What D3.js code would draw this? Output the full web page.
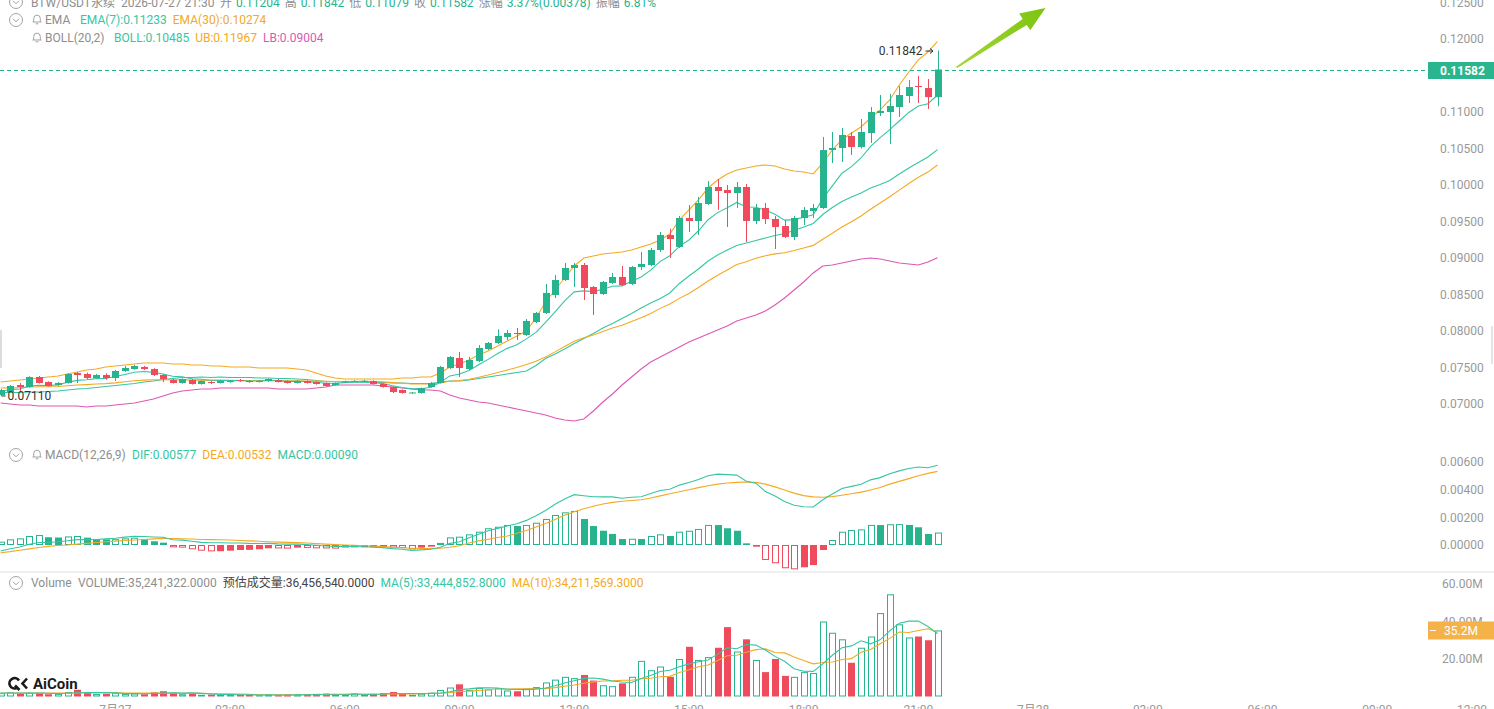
<!DOCTYPE html>
<html><head><meta charset="utf-8">
<script src="https://cdn.jsdelivr.net/npm/d3@7"></script>
<style>html,body{margin:0;padding:0;background:#fff;overflow:hidden}svg{display:block}</style>
</head><body>
<svg id="c" width="1494" height="709"></svg>
<script>
// ---------------- DATA ----------------
const open = [0.07123,0.07164,0.07260,0.07233,0.07370,0.07301,0.07260,0.07288,0.07425,0.07411,
0.07356,0.07397,0.07356,0.07452,0.07479,0.07507,0.07479,0.07397,0.07329,0.07288,
0.07329,0.07274,0.07301,0.07288,0.07301,0.07329,0.07315,0.07301,0.07315,0.07329,
0.07315,0.07288,0.07315,0.07301,0.07288,0.07260,0.07301,0.07310,0.07312,0.07315,
0.07274,0.07233,0.07192,0.07151,0.07151,0.07233,0.07288,0.07493,0.07630,0.07479,
0.07589,0.07753,0.07836,0.07918,0.07973,0.07945,0.08123,0.08247,0.08493,0.08699,
0.08863,0.08904,0.08603,0.08507,0.08658,0.08740,0.08644,0.08877,0.08904,0.09110,
0.09315,0.09151,0.09548,0.09507,0.09740,0.09973,0.09932,0.09890,0.09973,0.09507,
0.09685,0.09534,0.09438,0.09288,0.09548,0.09644,0.09685,0.10479,0.10507,0.10671,
0.10521,0.10712,0.10986,0.11000,0.11068,0.11219,0.11356,0.11329,0.11204];
const high = [0.07205,0.07260,0.07288,0.07380,0.07384,0.07310,0.07300,0.07420,0.07438,0.07430,
0.07410,0.07420,0.07466,0.07521,0.07534,0.07521,0.07490,0.07410,0.07342,0.07350,
0.07342,0.07325,0.07315,0.07329,0.07329,0.07342,0.07325,0.07325,0.07350,0.07342,
0.07325,0.07325,0.07320,0.07310,0.07295,0.07295,0.07320,0.07325,0.07330,0.07325,
0.07280,0.07240,0.07200,0.07165,0.07225,0.07301,0.07521,0.07658,0.07712,0.07644,
0.07808,0.07850,0.08023,0.08014,0.08041,0.08164,0.08260,0.08644,0.08767,0.08932,
0.08932,0.08932,0.08616,0.08685,0.08795,0.08890,0.08890,0.09082,0.09137,0.09356,
0.09400,0.09575,0.09726,0.09836,0.10055,0.10082,0.10000,0.10041,0.10014,0.09740,
0.09753,0.09575,0.09521,0.09575,0.09699,0.09740,0.10658,0.10726,0.10781,0.10726,
0.10904,0.11068,0.11233,0.11247,0.11356,0.11438,0.11493,0.11452,0.11842];
const low = [0.07110,0.07151,0.07164,0.07225,0.07280,0.07240,0.07250,0.07280,0.07288,0.07340,
0.07350,0.07330,0.07315,0.07440,0.07470,0.07466,0.07384,0.07301,0.07280,0.07280,
0.07265,0.07265,0.07275,0.07280,0.07290,0.07305,0.07290,0.07295,0.07305,0.07295,
0.07280,0.07280,0.07280,0.07265,0.07240,0.07250,0.07290,0.07305,0.07305,0.07265,
0.07225,0.07150,0.07140,0.07140,0.07140,0.07225,0.07280,0.07480,0.07370,0.07466,
0.07575,0.07740,0.07820,0.07877,0.07877,0.07932,0.08110,0.08233,0.08452,0.08685,
0.08603,0.08425,0.08219,0.08493,0.08644,0.08616,0.08630,0.08836,0.08890,0.09082,
0.09000,0.09137,0.09356,0.09315,0.09726,0.09658,0.09425,0.09685,0.09219,0.09466,
0.09466,0.09123,0.09274,0.09247,0.09452,0.09548,0.09670,0.10301,0.10315,0.10411,
0.10500,0.10575,0.10945,0.10562,0.10932,0.11123,0.11123,0.11041,0.11079];
const close = [0.07192,0.07247,0.07233,0.07370,0.07288,0.07247,0.07288,0.07411,0.07397,0.07356,
0.07397,0.07356,0.07452,0.07493,0.07521,0.07479,0.07397,0.07342,0.07288,0.07342,
0.07274,0.07315,0.07288,0.07315,0.07315,0.07315,0.07301,0.07315,0.07342,0.07301,
0.07288,0.07315,0.07288,0.07274,0.07247,0.07288,0.07310,0.07315,0.07318,0.07274,
0.07233,0.07164,0.07151,0.07158,0.07219,0.07288,0.07507,0.07644,0.07493,0.07603,
0.07767,0.07836,0.07932,0.07973,0.07959,0.08137,0.08247,0.08521,0.08699,0.08863,
0.08904,0.08589,0.08507,0.08671,0.08740,0.08630,0.08877,0.08918,0.09110,0.09315,
0.09260,0.09548,0.09507,0.09753,0.09973,0.09918,0.09890,0.09973,0.09507,0.09685,
0.09534,0.09425,0.09288,0.09548,0.09658,0.09685,0.10479,0.10507,0.10685,0.10521,
0.10726,0.11000,0.11014,0.11082,0.11233,0.11342,0.11342,0.11204,0.11582];
const ema7 = [0.07178,0.07195,0.07205,0.07246,0.07256,0.07254,0.07262,0.07299,0.07324,0.07332,
0.07348,0.07350,0.07376,0.07405,0.07434,0.07445,0.07433,0.07411,0.07380,0.07371,
0.07346,0.07339,0.07326,0.07323,0.07321,0.07320,0.07315,0.07315,0.07322,0.07316,
0.07310,0.07311,0.07306,0.07297,0.07285,0.07285,0.07293,0.07299,0.07303,0.07296,
0.07279,0.07251,0.07226,0.07207,0.07210,0.07229,0.07299,0.07385,0.07412,0.07460,
0.07537,0.07611,0.07692,0.07762,0.07811,0.07892,0.07981,0.08117,0.08262,0.08412,
0.08536,0.08549,0.08539,0.08571,0.08614,0.08618,0.08682,0.08741,0.08833,0.08954,
0.09030,0.09159,0.09247,0.09373,0.09524,0.09622,0.09689,0.09761,0.09698,0.09695,
0.09655,0.09598,0.09519,0.09526,0.09559,0.09591,0.09813,0.09987,0.10161,0.10251,
0.10370,0.10528,0.10650,0.10758,0.10877,0.10994,0.11081,0.11113,0.11233];
const ema30 = [0.07219,0.07221,0.07222,0.07232,0.07236,0.07236,0.07240,0.07251,0.07260,0.07266,
0.07274,0.07279,0.07290,0.07304,0.07318,0.07327,0.07332,0.07333,0.07330,0.07330,
0.07327,0.07326,0.07323,0.07323,0.07323,0.07322,0.07321,0.07321,0.07322,0.07321,
0.07318,0.07318,0.07316,0.07314,0.07310,0.07308,0.07308,0.07310,0.07310,0.07307,
0.07303,0.07293,0.07285,0.07275,0.07273,0.07273,0.07288,0.07311,0.07322,0.07340,
0.07367,0.07397,0.07432,0.07467,0.07499,0.07540,0.07585,0.07645,0.07714,0.07788,
0.07860,0.07907,0.07945,0.07992,0.08040,0.08078,0.08130,0.08181,0.08241,0.08310,
0.08371,0.08447,0.08515,0.08595,0.08684,0.08763,0.08836,0.08910,0.08948,0.08996,
0.09030,0.09056,0.09071,0.09102,0.09137,0.09173,0.09258,0.09339,0.09425,0.09496,
0.09576,0.09667,0.09754,0.09840,0.09930,0.10021,0.10106,0.10177,0.10274];
const bollMid = [0.07158,0.07158,0.07158,0.07164,0.07165,0.07172,0.07179,0.07192,0.07206,0.07213,
0.07226,0.07240,0.07254,0.07267,0.07281,0.07302,0.07315,0.07336,0.07350,0.07363,
0.07363,0.07370,0.07363,0.07370,0.07363,0.07363,0.07363,0.07356,0.07356,0.07349,
0.07349,0.07342,0.07336,0.07322,0.07309,0.07308,0.07301,0.07301,0.07301,0.07301,
0.07295,0.07288,0.07288,0.07281,0.07281,0.07281,0.07302,0.07315,0.07315,0.07329,
0.07349,0.07370,0.07391,0.07411,0.07432,0.07452,0.07528,0.07623,0.07685,0.07754,
0.07829,0.07898,0.07966,0.08041,0.08103,0.08171,0.08240,0.08315,0.08384,0.08446,
0.08521,0.08651,0.08754,0.08850,0.08959,0.09042,0.09110,0.09172,0.09206,0.09240,
0.09274,0.09309,0.09336,0.09377,0.09425,0.09473,0.09596,0.09692,0.09775,0.09836,
0.09891,0.09959,0.10007,0.10062,0.10151,0.10233,0.10309,0.10384,0.10485];
const bollUB = [0.07301,0.07315,0.07329,0.07342,0.07356,0.07370,0.07384,0.07411,0.07438,0.07466,
0.07479,0.07507,0.07521,0.07534,0.07548,0.07562,0.07562,0.07562,0.07548,0.07548,
0.07534,0.07534,0.07521,0.07521,0.07507,0.07507,0.07507,0.07493,0.07493,0.07493,
0.07493,0.07479,0.07466,0.07425,0.07384,0.07356,0.07342,0.07342,0.07342,0.07342,
0.07342,0.07342,0.07356,0.07356,0.07370,0.07370,0.07425,0.07507,0.07548,0.07603,
0.07671,0.07726,0.07795,0.07863,0.07932,0.08000,0.08178,0.08397,0.08562,0.08726,
0.08891,0.09000,0.09028,0.09055,0.09069,0.09082,0.09110,0.09151,0.09192,0.09247,
0.09329,0.09521,0.09658,0.09795,0.09959,0.10069,0.10151,0.10206,0.10233,0.10261,
0.10274,0.10261,0.10220,0.10192,0.10178,0.10151,0.10302,0.10480,0.10617,0.10713,
0.10795,0.10918,0.11028,0.11165,0.11370,0.11548,0.11713,0.11822,0.11967];
const bollLB = [0.07014,0.07000,0.06986,0.06986,0.06973,0.06973,0.06973,0.06973,0.06973,0.06959,
0.06973,0.06973,0.06986,0.07000,0.07014,0.07041,0.07068,0.07110,0.07151,0.07178,
0.07192,0.07205,0.07205,0.07219,0.07219,0.07219,0.07219,0.07219,0.07219,0.07205,
0.07205,0.07205,0.07205,0.07219,0.07233,0.07260,0.07260,0.07260,0.07260,0.07260,
0.07247,0.07233,0.07219,0.07205,0.07192,0.07192,0.07178,0.07123,0.07082,0.07055,
0.07027,0.07014,0.06986,0.06959,0.06932,0.06904,0.06877,0.06849,0.06808,0.06781,
0.06767,0.06795,0.06904,0.07027,0.07137,0.07260,0.07370,0.07479,0.07575,0.07644,
0.07712,0.07781,0.07849,0.07904,0.07959,0.08014,0.08069,0.08137,0.08178,0.08219,
0.08274,0.08356,0.08452,0.08562,0.08671,0.08795,0.08890,0.08904,0.08932,0.08959,
0.08986,0.09000,0.08986,0.08959,0.08932,0.08918,0.08904,0.08945,0.09004];
const dif = [-0.00044,-0.00027,-0.00014,0.00005,0.00018,0.00018,0.00023,0.00031,0.00039,0.00039,
0.00040,0.00044,0.00049,0.00057,0.00063,0.00061,0.00058,0.00056,0.00038,0.00035,
0.00027,0.00019,0.00016,0.00016,0.00015,0.00015,0.00012,0.00011,0.00012,0.00008,
0.00006,0.00007,0.00003,-0.00002,-0.00007,-0.00010,-0.00009,-0.00011,-0.00013,-0.00016,
-0.00019,-0.00026,-0.00031,-0.00039,-0.00035,-0.00031,-0.00016,0.00012,0.00024,0.00053,
0.00078,0.00103,0.00120,0.00138,0.00154,0.00178,0.00211,0.00249,0.00294,0.00333,
0.00364,0.00356,0.00349,0.00348,0.00348,0.00338,0.00345,0.00349,0.00373,0.00394,
0.00403,0.00433,0.00452,0.00473,0.00501,0.00512,0.00509,0.00505,0.00461,0.00447,
0.00386,0.00354,0.00314,0.00287,0.00276,0.00275,0.00327,0.00368,0.00408,0.00424,
0.00439,0.00471,0.00487,0.00515,0.00536,0.00553,0.00564,0.00558,0.00577];
const dea = [-0.00056,-0.00048,-0.00038,-0.00028,-0.00018,-0.00010,-0.00004,0.00000,0.00006,0.00012,
0.00018,0.00023,0.00028,0.00033,0.00036,0.00040,0.00044,0.00047,0.00047,0.00045,
0.00043,0.00040,0.00039,0.00038,0.00036,0.00033,0.00030,0.00027,0.00024,0.00021,
0.00019,0.00017,0.00014,0.00010,0.00006,0.00003,0.00000,-0.00002,-0.00005,-0.00008,
-0.00012,-0.00016,-0.00020,-0.00023,-0.00025,-0.00025,-0.00024,-0.00016,-0.00006,0.00014,
0.00030,0.00042,0.00054,0.00065,0.00085,0.00105,0.00130,0.00155,0.00185,0.00215,
0.00241,0.00262,0.00280,0.00296,0.00308,0.00316,0.00322,0.00327,0.00340,0.00355,
0.00370,0.00385,0.00400,0.00415,0.00428,0.00440,0.00448,0.00453,0.00455,0.00453,
0.00440,0.00420,0.00398,0.00375,0.00357,0.00348,0.00345,0.00350,0.00360,0.00370,
0.00382,0.00398,0.00415,0.00440,0.00460,0.00480,0.00500,0.00518,0.00532];
const macdHist = [0.00024,0.00041,0.00048,0.00065,0.00072,0.00056,0.00054,0.00062,0.00065,0.00053,
0.00043,0.00041,0.00042,0.00048,0.00053,0.00041,0.00027,0.00017,-0.00017,-0.00019,
-0.00031,-0.00041,-0.00046,-0.00045,-0.00041,-0.00036,-0.00035,-0.00031,-0.00024,-0.00025,
-0.00026,-0.00019,-0.00021,-0.00024,-0.00025,-0.00026,-0.00018,-0.00017,-0.00016,-0.00015,
-0.00014,-0.00019,-0.00022,-0.00031,-0.00019,-0.00012,0.00015,0.00055,0.00060,0.00077,
0.00096,0.00121,0.00132,0.00145,0.00137,0.00145,0.00161,0.00188,0.00217,0.00236,
0.00246,0.00188,0.00137,0.00103,0.00080,0.00043,0.00045,0.00043,0.00065,0.00077,
0.00065,0.00096,0.00103,0.00116,0.00145,0.00144,0.00121,0.00103,0.00012,-0.00012,
-0.00108,-0.00132,-0.00168,-0.00176,-0.00161,-0.00145,-0.00036,0.00036,0.00096,0.00108,
0.00113,0.00145,0.00144,0.00150,0.00151,0.00145,0.00128,0.00080,0.00090];
// volume in millions
const volume = [1.8,2.2,1.5,2.0,1.6,1.2,1.4,2.4,3.6,2.0,
1.3,1.5,1.8,1.4,1.6,1.2,2.2,2.8,2.0,1.2,
1.5,0.9,1.0,0.8,0.9,1.0,0.8,0.7,0.9,0.8,
1.0,0.9,1.2,1.4,1.5,1.0,0.8,1.6,0.9,1.4,
1.8,2.4,1.6,0.9,1.5,2.0,3.5,4.8,6.5,3.5,
4.6,3.8,4.4,3.2,2.8,4.2,5.0,7.5,9.0,10.5,
9.8,11.5,8.5,6.0,5.5,7.0,10.5,19.0,14.0,16.0,
10.5,20.0,26.5,19.5,21.0,26.0,37.0,24.0,30.5,19.5,
13.0,20.0,11.0,10.5,13.0,12.5,40.0,34.0,30.5,18.0,
26.0,32.0,44.5,54.5,38.5,31.5,32.0,30.0,35.24];
const volMA5 = [1.9,1.9,1.8,1.8,1.82,1.70,1.54,1.72,2.04,2.12,
2.14,2.16,2.04,1.60,1.52,1.50,1.64,1.84,1.96,1.88,
1.94,1.68,1.32,1.08,1.02,0.92,0.90,0.84,0.86,0.84,
0.84,0.86,0.96,1.06,1.20,1.20,1.18,1.26,1.16,1.14,
1.30,1.62,1.62,1.62,1.64,1.68,1.90,2.54,3.66,4.06,
4.58,4.64,4.56,3.90,3.76,3.68,3.92,4.54,5.70,7.24,
8.36,9.66,9.86,9.26,8.26,7.70,7.50,9.60,11.20,13.30,
14.00,15.90,17.40,18.50,19.50,22.60,26.00,25.50,27.70,27.40,
24.80,21.40,18.80,14.80,13.50,13.40,17.40,22.00,26.00,27.00,
29.70,28.10,30.20,35.00,39.10,40.20,40.20,37.30,33.44];
const volMA10 = [1.9,1.9,1.9,1.9,1.9,1.9,1.9,1.9,1.9,1.91,
1.84,1.94,2.04,1.86,1.83,1.83,1.84,1.72,1.74,1.69,
1.79,1.76,1.64,1.48,1.48,1.30,1.11,0.96,0.94,0.88,
0.87,0.85,0.91,0.95,1.02,1.03,1.07,1.16,1.18,1.17,
1.24,1.44,1.39,1.38,1.47,1.65,1.76,2.08,2.65,2.87,
3.24,3.59,4.11,3.98,4.17,4.16,4.24,4.22,4.73,5.46,
6.14,7.10,7.78,8.25,8.31,8.68,8.68,9.43,9.73,10.50,
10.75,12.75,14.30,15.90,16.75,19.25,21.70,22.00,23.60,25.00,
25.40,23.45,23.25,21.10,19.15,17.40,18.10,18.40,19.75,20.20,
23.55,25.05,28.10,31.00,34.40,34.15,35.20,36.15,34.21];
const priceTicks = [0.125,0.12,0.115,0.11,0.105,0.10,0.095,0.09,0.085,0.08,0.075,0.07];
const macdTicks = [0.006,0.004,0.002,0];
const volTicks = [60,40,20];
const timeTickIdx = [12,24,36,48,60,72,84,96,108,120,132,144,156];
const timeTickLabels = ["7月27","03:00","06:00","09:00","12:00","15:00","18:00","21:00","7月28","03:00","06:00","09:00","12:00"];

// ---------------- DRAW ----------------
const N = close.length, L = N - 1;
const FONT = "Roboto, 'Noto Sans CJK SC', 'Noto Sans', sans-serif";
const GREEN = '#27b38d', RED = '#ef4b5d', TEAL = '#35c6a3', ORANGE = '#f4a922', PINK = '#de57b4', GREY = '#8e8e8e';
const svg = d3.select('#c').style('font-family', FONT);

const x = d3.scaleLinear().domain([0, 98]).range([0.6, 937.5]);
const yP = d3.scaleLinear().domain([0.07, 0.12]).range([404, 39]);
const yM = d3.scaleLinear().domain([0, 0.006]).range([545, 462]);
const yV = d3.scaleLinear().domain([0, 60]).range([696.5, 584]);
const cx = i => Math.round(x(i)) + 0.5;
const BW = 7;
const yLast = Math.round(yP(close[L])) + 0.5;

// separators / edge handles
svg.append('rect').attr('x', 0).attr('y', 571).attr('width', 1494).attr('height', 2).attr('fill', '#f0f0f0');
svg.append('rect').attr('x', 0).attr('y', 330).attr('width', 2).attr('height', 38).attr('fill', '#dcdcdc');
svg.append('rect').attr('x', 1491).attr('y', 326).attr('width', 2).attr('height', 38).attr('fill', '#e4e4e4');

// right axis (labels hidden behind the last-price box are skipped)
const axisG = svg.append('g').attr('font-size', 12).attr('fill', '#999');
priceTicks.filter(t => Math.abs(yP(t) - yLast) > 11)
  .forEach(t => axisG.append('text').attr('x', 1440).attr('y', yP(t)).attr('dy', '0.35em').text(t.toFixed(5)));
macdTicks.forEach(t => axisG.append('text').attr('x', 1440).attr('y', yM(t)).attr('dy', '0.35em').text(t.toFixed(5)));
volTicks.forEach(t => axisG.append('text').attr('x', 1442).attr('y', yV(t)).attr('dy', '0.35em').text(t.toFixed(2) + 'M'));

// time axis (cut at bottom)
timeTickIdx.forEach((ti, k) => {
  const px = Math.min(x(ti), 1472);
  svg.append('text').attr('x', px).attr('y', 714).attr('text-anchor', 'middle')
    .attr('font-size', 12).attr('fill', '#999').text(timeTickLabels[k]);
});

// price lines
const pLine = arr => d3.line().x((d, i) => x(i)).y(d => yP(d))(arr);
[[bollLB, PINK], [bollUB, ORANGE], [bollMid, TEAL], [ema30, ORANGE], [ema7, TEAL]].forEach(([a, c]) => {
  svg.append('path').attr('d', pLine(a)).attr('fill', 'none').attr('stroke', c).attr('stroke-width', 1.1);
});

// candles
const cg = svg.append('g');
for (let i = 0; i < N; i++) {
  const up = close[i] >= open[i];
  const col = up ? GREEN : RED;
  cg.append('line').attr('x1', cx(i)).attr('x2', cx(i)).attr('y1', yP(high[i])).attr('y2', yP(low[i]))
    .attr('stroke', col).attr('stroke-width', 1);
  const y1 = yP(Math.max(open[i], close[i])), y2 = yP(Math.min(open[i], close[i]));
  cg.append('rect').attr('x', cx(i) - BW / 2).attr('y', y1).attr('width', BW)
    .attr('height', Math.max(1, y2 - y1)).attr('fill', col);
}

// last price dashed line + box
svg.append('line').attr('x1', 0).attr('x2', 1428).attr('y1', yLast).attr('y2', yLast)
  .attr('stroke', GREEN).attr('stroke-dasharray', '4,3').attr('stroke-width', 1);
svg.append('rect').attr('x', 1428).attr('y', yLast - 8.5).attr('width', 66).attr('height', 17).attr('fill', '#2bb58e');
svg.append('text').attr('x', 1440).attr('y', yLast).attr('dy', '0.36em').attr('font-size', 12)
  .attr('font-weight', 'bold').attr('fill', '#fff').text(close[L].toFixed(5));

// high label
const yHi = yP(high[L]);
svg.append('text').attr('x', x(L) - 15).attr('y', yHi).attr('dy', '0.36em').attr('text-anchor', 'end')
  .attr('font-size', 12).attr('fill', '#333').text(high[L].toFixed(5));
svg.append('line').attr('x1', x(L) - 12).attr('x2', x(L) - 5).attr('y1', yHi + 0.5).attr('y2', yHi + 0.5).attr('stroke', '#333');
svg.append('path').attr('d', `M${x(L) - 7.5},${yHi - 2} L${x(L) - 4.5},${yHi + 0.5} L${x(L) - 7.5},${yHi + 3}`)
  .attr('fill', 'none').attr('stroke', '#333');

// low label
const lowIdx = d3.minIndex(low);
const yLo = yP(low[lowIdx]);
svg.append('line').attr('x1', x(lowIdx) + 1).attr('x2', x(lowIdx) + 5).attr('y1', yLo).attr('y2', yLo).attr('stroke', '#333');
svg.append('text').attr('x', x(lowIdx) + 7).attr('y', yLo).attr('dy', '0.36em').attr('font-size', 12)
  .attr('fill', '#333').text(low[lowIdx].toFixed(5));

// green arrow annotation
{
  const sx = x(L) + 19, sy = yP(close[L]) - 2, tx = x(L) + 108, ty = 8;
  const dx = tx - sx, dy = ty - sy, len = Math.hypot(dx, dy), ux = dx / len, uy = dy / len, nx = -uy, ny = ux;
  const hb = 25, bx = tx - ux * hb, by = ty - uy * hb;
  const w0 = 0.8, w1 = 3.6, hw = 10;
  const pts = [
    [sx + nx * w0, sy + ny * w0], [bx + nx * w1, by + ny * w1], [bx + nx * hw, by + ny * hw], [tx, ty],
    [bx - nx * hw, by - ny * hw], [bx - nx * w1, by - ny * w1], [sx - nx * w0, sy - ny * w0]
  ];
  const grad = svg.append('defs').append('linearGradient').attr('id', 'ag').attr('gradientUnits', 'userSpaceOnUse')
    .attr('x1', sx).attr('y1', sy).attr('x2', tx).attr('y2', ty);
  grad.append('stop').attr('offset', 0).attr('stop-color', '#a6d63a');
  grad.append('stop').attr('offset', 1).attr('stop-color', '#7cc50e');
  svg.append('path').attr('d', 'M' + pts.map(p => p.join(',')).join('L') + 'Z').attr('fill', 'url(#ag)');
}

// MACD histogram
const mg = svg.append('g');
for (let i = 0; i < N; i++) {
  const v = macdHist[i];
  const col = v >= 0 ? GREEN : RED;
  const hollow = i === 0 || Math.abs(v) >= Math.abs(macdHist[i - 1]);
  const yTop = Math.min(yM(v), yM(0)), h = Math.max(1, Math.abs(yM(v) - yM(0)));
  if (hollow && h > 2) {
    mg.append('rect').attr('x', cx(i) - BW / 2 + 0.5).attr('y', yTop + 0.5).attr('width', BW - 1).attr('height', h - 1)
      .attr('fill', '#fff').attr('stroke', col).attr('stroke-width', 1);
  } else {
    mg.append('rect').attr('x', cx(i) - BW / 2).attr('y', yTop).attr('width', BW).attr('height', h).attr('fill', col);
  }
}
const mLine = arr => d3.line().x((d, i) => x(i)).y(d => yM(d))(arr);
svg.append('path').attr('d', mLine(dea)).attr('fill', 'none').attr('stroke', ORANGE).attr('stroke-width', 1.1);
svg.append('path').attr('d', mLine(dif)).attr('fill', 'none').attr('stroke', TEAL).attr('stroke-width', 1.1);

// Volume
const vg = svg.append('g');
for (let i = 0; i < N; i++) {
  const up = close[i] >= open[i];
  const yTop = yV(volume[i]), h = Math.max(1, yV(0) - yTop);
  if (up && h > 2) {
    vg.append('rect').attr('x', cx(i) - BW / 2 + 0.5).attr('y', yTop + 0.5).attr('width', BW - 1).attr('height', h - 1)
      .attr('fill', '#fff').attr('stroke', GREEN).attr('stroke-width', 1);
  } else {
    vg.append('rect').attr('x', cx(i) - BW / 2).attr('y', yTop).attr('width', BW).attr('height', h).attr('fill', up ? GREEN : RED);
  }
}
const vLine = arr => d3.line().x((d, i) => x(i)).y(d => yV(d))(arr);
svg.append('path').attr('d', vLine(volMA10)).attr('fill', 'none').attr('stroke', ORANGE).attr('stroke-width', 1.1);
svg.append('path').attr('d', vLine(volMA5)).attr('fill', 'none').attr('stroke', TEAL).attr('stroke-width', 1.1);

// volume last box
{
  const yb = Math.round(yV(volume[L])) + 0.5;
  svg.append('rect').attr('x', 1428).attr('y', yb - 9).attr('width', 66).attr('height', 18).attr('fill', '#f5b248');
  svg.append('line').attr('x1', 1430).attr('x2', 1436).attr('y1', yb).attr('y2', yb).attr('stroke', '#fff');
  svg.append('text').attr('x', 1444).attr('y', yb).attr('dy', '0.36em').attr('font-size', 12).attr('fill', '#fff')
    .text(volume[L].toFixed(1) + 'M');
}

// ---------------- HEADERS ----------------
function chevron(px, py) {
  svg.append('circle').attr('cx', px).attr('cy', py).attr('r', 6.5).attr('fill', 'none').attr('stroke', '#a3a3a3');
  svg.append('path').attr('d', `M${px - 3},${py - 1.2} L${px},${py + 1.8} L${px + 3},${py - 1.2}`)
    .attr('fill', 'none').attr('stroke', '#a3a3a3');
}
function bell(px, py) {
  svg.append('path').attr('d', `M${px - 4.5},${py + 3} h9 M${px - 3.3},${py + 3} v-3.3 a3.3,3.6 0 0 1 6.6,0 v3.3 M${px - 1.4},${py + 4.8} h2.8`)
    .attr('fill', 'none').attr('stroke', '#a3a3a3');
}
// a row of texts: each at its target x, pushed right if it would touch the previous one
function row(py, items, gap) {
  let end = -Infinity;
  items.forEach(([px, txt, col, g]) => {
    const t = svg.append('text').attr('y', py).attr('font-size', 12).attr('fill', col).text(txt);
    const sx = Math.max(px, end + (g !== undefined ? g : gap));
    t.attr('x', sx);
    end = sx + t.node().getComputedTextLength();
  });
}
const f5 = v => v.toFixed(5);
const chg = close[L] - open[L];
// row 1
chevron(16, 2);
row(7, [
  [31, 'BTW/USDT永续', GREY], [121, '2026-07-27 21:30', GREY, 5],
  [220, '开', GREY, 5], [234, f5(open[L]), GREEN, 4],
  [284, '高', GREY, 5], [298, f5(high[L]), GREEN, 4],
  [347, '低', GREY, 5], [361, f5(low[L]), GREEN, 4],
  [413, '收', GREY, 5], [427, f5(close[L]), GREEN, 4],
  [477, '涨幅', GREY, 5], [503, (chg / open[L] * 100).toFixed(2) + '%(' + f5(chg) + ')', GREEN, 4],
  [590, '振幅', GREY, 5], [616, ((high[L] - low[L]) / open[L] * 100).toFixed(2) + '%', GREEN, 4]
], 5);
// row 2
chevron(16, 20); bell(37, 19);
row(24, [[45, 'EMA', GREY], [80, 'EMA(7):' + f5(ema7[L]), TEAL], [172, 'EMA(30):' + f5(ema30[L]), ORANGE]], 6);
// row 3
bell(37, 37);
row(42, [[45, 'BOLL(20,2)', GREY], [114, 'BOLL:' + f5(bollMid[L]), TEAL], [195, 'UB:' + f5(bollUB[L]), ORANGE],
  [262, 'LB:' + f5(bollLB[L]), PINK]], 6);
// MACD row
chevron(16, 455); bell(37, 454);
row(459, [[45, 'MACD(12,26,9)', GREY], [132, 'DIF:' + f5(dif[L]), TEAL], [202, 'DEA:' + f5(dea[L]), ORANGE],
  [277, 'MACD:' + f5(macdHist[L]), TEAL]], 6);
// Volume row
chevron(16, 583);
row(587, [[31, 'Volume', GREY], [78, 'VOLUME:35,241,322.0000', GREY], [222, '预估成交量:36,456,540.0000', '#444'],
  [380, 'MA(5):33,444,852.8000', TEAL], [511, 'MA(10):34,211,569.3000', ORANGE]], 6);

// AiCoin logo
{
  const g = svg.append('g');
  g.append('path').attr('d', 'M19,680.5 A5.2,5.2 0 1 0 16.5,688.2').attr('fill', 'none').attr('stroke', '#1a1a1a').attr('stroke-width', 2.6);
  g.append('path').attr('d', 'M15,685.5 L19.5,690').attr('stroke', '#1a1a1a').attr('stroke-width', 2.6);
  g.append('path').attr('d', 'M27,678.5 L22.5,683.5 L27,688.5').attr('fill', 'none').attr('stroke', '#1a1a1a').attr('stroke-width', 2.6);
  g.append('text').attr('x', 33).attr('y', 689).attr('font-size', 15).attr('font-weight', 'bold').attr('fill', '#1a1a1a').text('AiCoin');
}
</script>
</body></html>
